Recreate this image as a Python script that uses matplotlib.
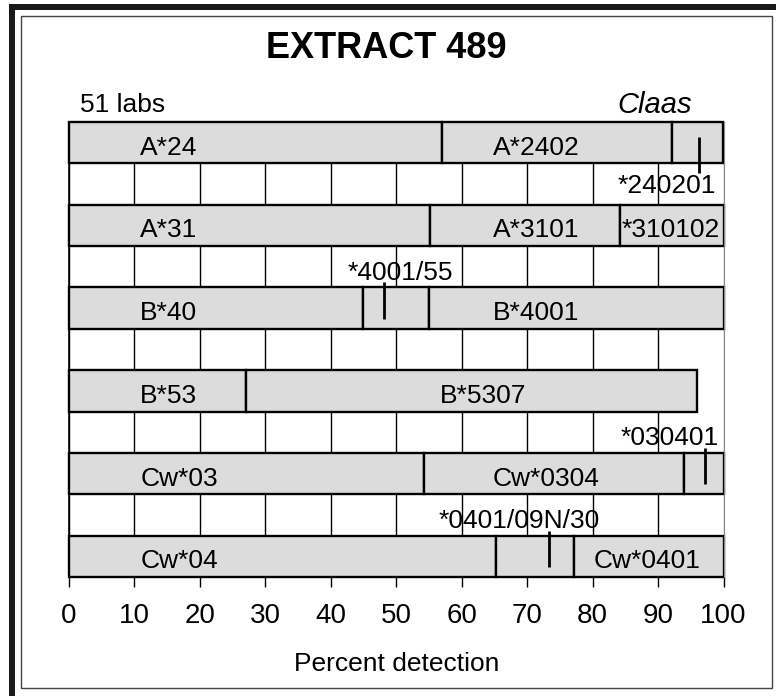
import matplotlib.pyplot as plt
from matplotlib.patches import Rectangle

plt.rcParams['font.family'] = ['Liberation Sans', 'DejaVu Sans']

# segments: row index, start, end (percent), label
seg_rows = [0, 0, 0, 1, 1, 1, 2, 2, 2, 3, 3, 4, 4, 4, 5, 5, 5]
seg_starts = [0, 57, 92.2, 0, 55.1, 84.2, 0, 44.9, 55, 0, 27, 0, 54.2, 93.9, 0, 65.2, 77.1]
seg_ends = [57, 92.2, 100, 55.1, 84.2, 100, 44.9, 55, 100, 27, 96, 54.2, 93.9, 100, 65.2, 77.1, 100]
seg_labels = ['A*24', 'A*2402', '', 'A*31', 'A*3101', '*310102', 'B*40', '', 'B*4001',
              'B*53', 'B*5307', 'Cw*03', 'Cw*0304', '', 'Cw*04', '', 'Cw*0401']
seg_label_x = [10.9, 64.8, 0, 10.9, 64.8, 84.4, 10.9, 0, 64.8,
               10.9, 56.6, 10.9, 64.8, 0, 10.9, 0, 80.1]

# small allele markers
mark_rows = [0, 2, 4, 5]
mark_x = [96.2, 48.2, 97.1, 73.3]
mark_labels = ['*240201', '*4001/55', '*030401', '*0401/09N/30']
mark_label_x = [91.3, 50.6, 91.7, 68.8]
mark_below = [True, False, False, False]

ticks = list(range(0, 101, 10))

W, H = 776, 696
fig = plt.figure(figsize=(W / 100, H / 100), dpi=100)

# frame decoration
def px_rect(x0, y0, x1, y1, **kw):
    r = Rectangle((x0 / W, 1 - y1 / H), (x1 - x0) / W, (y1 - y0) / H,
                  transform=fig.transFigure, **kw)
    fig.patches.append(r)

px_rect(9, 4, 776, 10, facecolor='#1a1a1a', edgecolor='none')
px_rect(9, 4, 15, 696, facecolor='#1a1a1a', edgecolor='none')
px_rect(21, 16, 772, 688, facecolor='none', edgecolor='#444444', lw=1)

ax = fig.add_axes([69 / W, 1 - 577 / H, 654.5 / W, 455 / H])

for r, s, e, lab, lx in zip(seg_rows, seg_starts, seg_ends, seg_labels, seg_label_x):
    ax.barh(r, e - s, left=s, height=0.5, color='#dcdcdc', edgecolor='black',
            linewidth=1.7, zorder=2, clip_on=False)
    if lab:
        ax.text(lx, r + 0.06, lab, ha='left', va='center', fontsize=19, zorder=4)

for r, x, lab, lx, below in zip(mark_rows, mark_x, mark_labels, mark_label_x, mark_below):
    if below:
        ax.plot([x, x], [r - 0.07, r + 0.37], color='black', lw=2, zorder=3,
                solid_capstyle='butt')
        ax.text(lx, r + 0.38, lab, ha='center', va='top', fontsize=19, zorder=4)
    else:
        ax.plot([x, x], [r - 0.31, r + 0.13], color='black', lw=2, zorder=3,
                solid_capstyle='butt')
        ax.text(lx, r - 0.28, lab, ha='center', va='bottom', fontsize=19, zorder=4)

ax.set_xlim(0, 100)
ax.set_ylim(5.25, -0.25)
ax.set_xticks(ticks)
ax.set_yticks([])
ax.tick_params(axis='x', direction='out', length=7, width=1, pad=12, labelsize=20)
ax.xaxis.grid(True, color='black', linewidth=1)
ax.set_axisbelow(True)
ax.get_xgridlines()[-1].set_color('#888888')
for side in ['top', 'bottom']:
    ax.spines[side].set_visible(False)
ax.spines['right'].set_color('#888888')
ax.spines['left'].set_linewidth(1.2)
ax.set_xlabel('Percent detection', fontsize=19, labelpad=16)

fig.text(386 / W, 1 - 48 / H, 'EXTRACT 489', ha='center', va='center',
         fontsize=26, fontweight='bold')
fig.text(80 / W, 1 - 105 / H, '51 labs', ha='left', va='center', fontsize=19)
fig.text(692 / W, 1 - 105 / H, 'Claas', ha='right', va='center', fontsize=21,
         style='italic')

fig.savefig('out.png', dpi=100)
